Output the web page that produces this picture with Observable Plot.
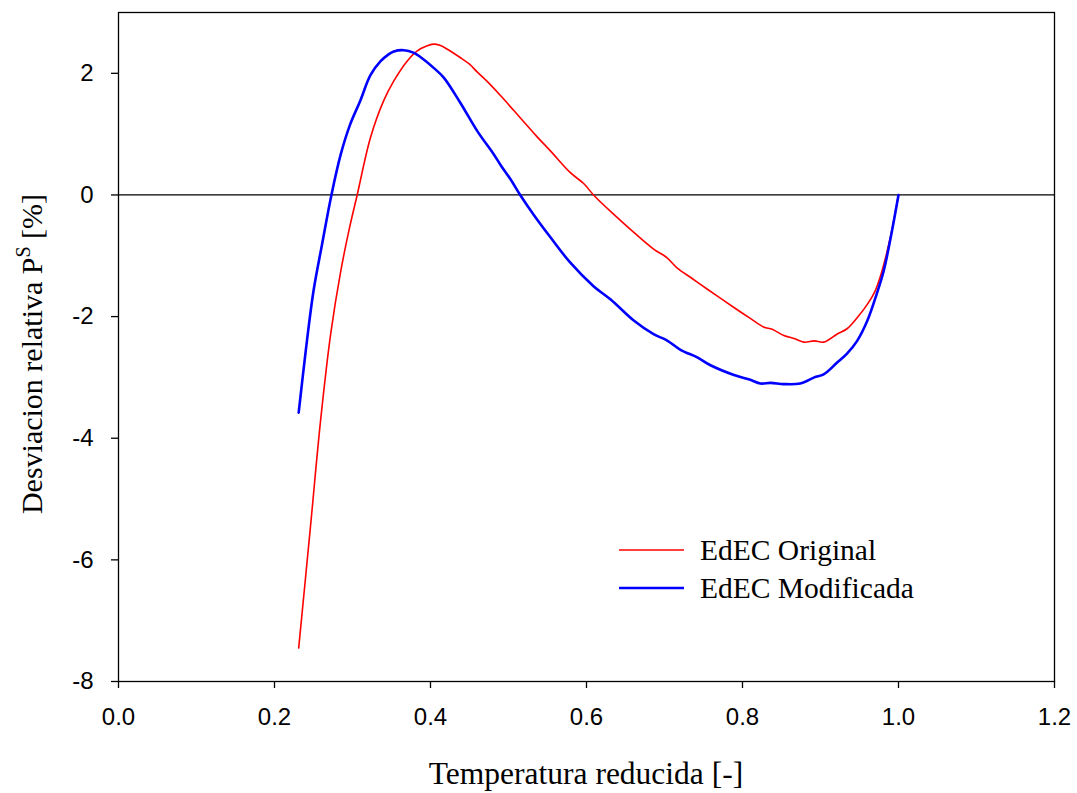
<!DOCTYPE html>
<html>
<head>
<meta charset="utf-8">
<script src="https://cdn.jsdelivr.net/npm/d3@7"></script>
<script src="https://cdn.jsdelivr.net/npm/@observablehq/plot@0.6"></script>
<style>
  html, body { margin: 0; padding: 0; background: #fff; }
  #chart { width: 1077px; height: 793px; }
  #chart g[aria-label$="tick label"] text { font-size: 24px; }
</style>
</head>
<body>
<div id="chart"></div>
<script>
// Reduced temperature and relative deviation of saturation pressure (%)
const tOriginal = [0.231, 0.246, 0.259, 0.272, 0.285, 0.296, 0.306, 0.323, 0.340, 0.353, 0.370, 0.383, 0.395, 0.404, 0.412, 0.421, 0.438, 0.450, 0.460, 0.472, 0.490, 0.515, 0.535, 0.554, 0.579, 0.597, 0.609, 0.635, 0.661, 0.686, 0.703, 0.716, 0.735, 0.755, 0.772, 0.789, 0.810, 0.827, 0.838, 0.853, 0.866, 0.879, 0.892, 0.904, 0.921, 0.934, 0.947, 0.960, 0.970, 0.977, 0.985, 0.992, 1.000];
const devOriginal = [-7.45, -5.47, -3.72, -2.29, -1.25, -0.55, 0.0, 0.94, 1.55, 1.875, 2.20, 2.37, 2.45, 2.48, 2.46, 2.40, 2.26, 2.15, 2.02, 1.875, 1.63, 1.27, 0.98, 0.72, 0.37, 0.18, 0.0, -0.32, -0.62, -0.89, -1.03, -1.20, -1.37, -1.55, -1.70, -1.85, -2.03, -2.17, -2.21, -2.31, -2.36, -2.42, -2.40, -2.42, -2.29, -2.20, -2.02, -1.80, -1.58, -1.33, -0.95, -0.55, 0.0];

const tModificada = [0.231, 0.240, 0.250, 0.261, 0.273, 0.285, 0.297, 0.310, 0.323, 0.336, 0.345, 0.353, 0.366, 0.378, 0.390, 0.404, 0.417, 0.438, 0.460, 0.481, 0.490, 0.503, 0.515, 0.532, 0.554, 0.579, 0.609, 0.631, 0.661, 0.686, 0.703, 0.721, 0.742, 0.759, 0.789, 0.810, 0.823, 0.836, 0.853, 0.874, 0.892, 0.904, 0.921, 0.934, 0.947, 0.960, 0.972, 0.981, 0.990, 1.000];
const devModificada = [-3.58, -2.57, -1.58, -0.81, 0.0, 0.67, 1.16, 1.55, 1.97, 2.20, 2.30, 2.36, 2.38, 2.34, 2.24, 2.09, 1.93, 1.52, 1.05, 0.67, 0.49, 0.25, 0.0, -0.32, -0.70, -1.11, -1.50, -1.72, -2.07, -2.29, -2.39, -2.55, -2.67, -2.80, -2.96, -3.04, -3.10, -3.09, -3.11, -3.10, -3.00, -2.95, -2.76, -2.61, -2.40, -2.07, -1.63, -1.25, -0.70, 0.0];

const seriesNames = ["EdEC Original", "EdEC Modificada"];
const seriesColors = ["#ff0000", "#0000ff"];
const seriesWidths = [1.6, 2.6];

const xTicks = [0.0, 0.2, 0.4, 0.6, 0.8, 1.0, 1.2];
const yTicks = [2, 0, -2, -4, -6, -8];

const xTitle = "Temperatura reducida [-]";
const yTitleMain = "Desviacion relativa P";
const yTitleSup = "S";
const yTitleEnd = " [%]";

const original = tOriginal.map((t, i) => ({t, d: devOriginal[i]}));
const modificada = tModificada.map((t, i) => ({t, d: devModificada[i]}));

const W = 1077, H = 793;
const mL = 118, mR = 23, mT = 12, mB = 112;

// plain hyphen-minus for negative tick labels
const fmtX = d => d.toFixed(1);
const fmtY = d => String(d);

const chart = Plot.plot({
  width: W,
  height: H,
  marginLeft: mL,
  marginRight: mR,
  marginTop: mT,
  marginBottom: mB,
  style: {background: "#fff", color: "#000", fontFamily: "'Liberation Sans', Arial, sans-serif"},
  x: {domain: [0, 1.2]},
  y: {domain: [-8, 3]},
  marks: [
    Plot.ruleY([0], {stroke: "#000", strokeWidth: 1.2}),
    Plot.line(original, {x: "t", y: "d", stroke: seriesColors[0], strokeWidth: seriesWidths[0], curve: "catmull-rom"}),
    Plot.line(modificada, {x: "t", y: "d", stroke: seriesColors[1], strokeWidth: seriesWidths[1], curve: "catmull-rom"}),
    Plot.frame({stroke: "#000", strokeWidth: 1.3}),
    Plot.axisX({ticks: xTicks, tickFormat: fmtX, tickSize: 7, tickPadding: 19, fontSize: 24, label: null, strokeWidth: 1.3}),
    Plot.axisY({ticks: yTicks, tickFormat: fmtY, tickSize: 7, tickPadding: 18, fontSize: 24, label: null, strokeWidth: 1.3})
  ]
});

document.getElementById("chart").appendChild(chart);

// Axis titles and legend drawn on top of the plot
const svg = d3.select(chart);
svg.selectAll('g[aria-label$="tick label"]').attr("font-size", 24).style("font-size", "24px");
const serif = "'Liberation Serif', 'Times New Roman', serif";

svg.append("text")
  .attr("x", 586)
  .attr("y", 784)
  .attr("text-anchor", "middle")
  .attr("font-family", serif)
  .attr("font-size", 31.5)
  .attr("fill", "#000")
  .text(xTitle);

const yt = svg.append("text")
  .attr("transform", `translate(42,354) rotate(-90)`)
  .attr("text-anchor", "middle")
  .attr("font-family", serif)
  .attr("font-size", 30)
  .attr("fill", "#000");
yt.append("tspan").text(yTitleMain);
yt.append("tspan").attr("dy", -12).attr("font-size", 20).text(yTitleSup);
yt.append("tspan").attr("dy", 12).text(yTitleEnd);

const legend = svg.append("g").attr("transform", "translate(619,550)");
seriesNames.forEach((name, i) => {
  const row = legend.append("g").attr("transform", `translate(0,${i * 38})`);
  row.append("line").attr("x1", 0).attr("x2", 65).attr("y1", 0).attr("y2", 0)
    .attr("stroke", seriesColors[i]).attr("stroke-width", seriesWidths[i]);
  row.append("text").attr("x", 81).attr("y", 0).attr("dy", "0.35em")
    .attr("text-anchor", "start")
    .attr("font-family", serif).attr("font-size", 29.5).attr("fill", "#000").text(name);
});
</script>
</body>
</html>
